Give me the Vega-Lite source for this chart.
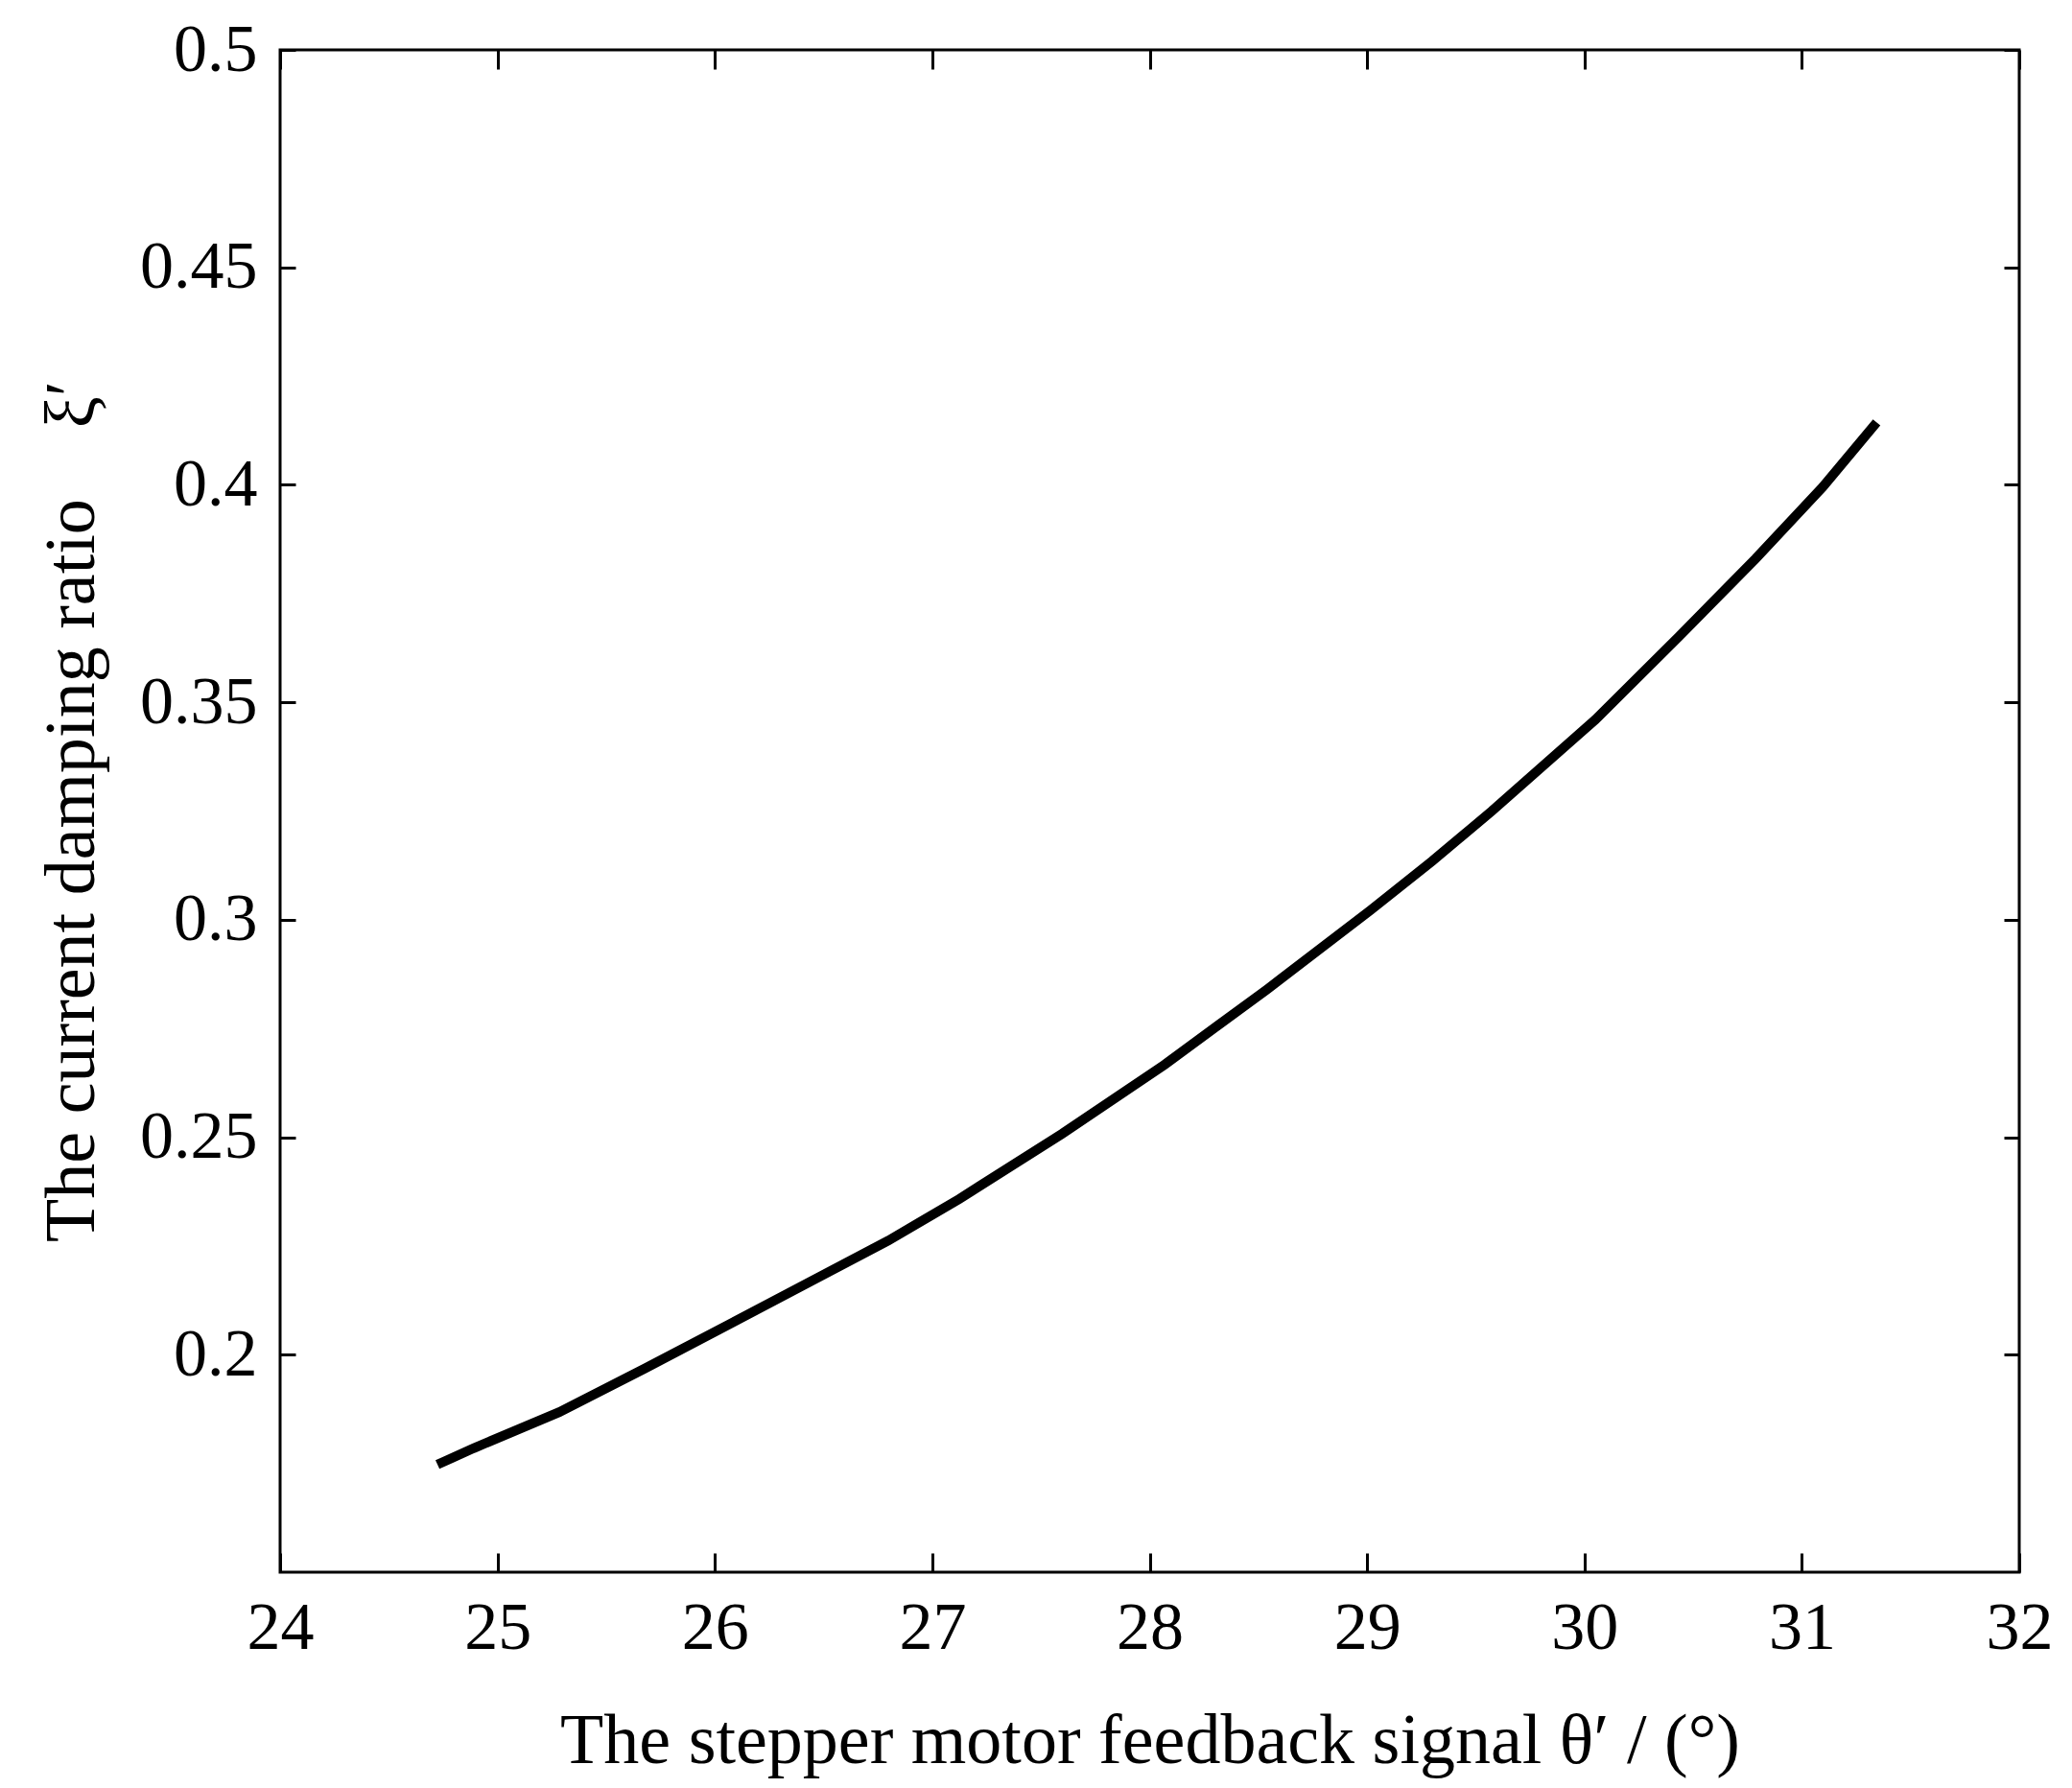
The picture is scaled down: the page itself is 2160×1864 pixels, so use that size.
{
  "$schema": "https://vega.github.io/schema/vega-lite/v6.json",
  "autosize": "none",
  "padding": {"left": 292, "top": 52, "right": 55, "bottom": 225},
  "width": 1813,
  "height": 1587,
  "background": "white",
  "config": {
    "view": {"stroke": "black", "strokeWidth": 3},
    "font": "Liberation Serif",
    "axis": {
      "grid": false,
      "domain": false,
      "labelFlush": false,
      "tickColor": "black",
      "tickWidth": 3,
      "labelColor": "black",
      "labelFont": "Liberation Serif",
      "labelFontSize": 70,
      "titleColor": "black",
      "titleFont": "Liberation Serif",
      "titleFontSize": 74,
      "titleFontWeight": "normal"
    }
  },
  "data": {
    "values": [
      {"theta": 24.744, "xi": 0.1752},
      {"theta": 24.89, "xi": 0.1785},
      {"theta": 25.284, "xi": 0.1868},
      {"theta": 25.677, "xi": 0.1968},
      {"theta": 26.07, "xi": 0.2071},
      {"theta": 26.466, "xi": 0.2175},
      {"theta": 26.797, "xi": 0.2262},
      {"theta": 27.124, "xi": 0.2358},
      {"theta": 27.597, "xi": 0.2508},
      {"theta": 28.069, "xi": 0.2667},
      {"theta": 28.54, "xi": 0.2840},
      {"theta": 29.016, "xi": 0.3022},
      {"theta": 29.3, "xi": 0.3135},
      {"theta": 29.574, "xi": 0.3250},
      {"theta": 30.05, "xi": 0.3460},
      {"theta": 30.434, "xi": 0.3651},
      {"theta": 30.787, "xi": 0.3830},
      {"theta": 31.096, "xi": 0.3995},
      {"theta": 31.33, "xi": 0.4135}
    ]
  },
  "layer": [
    {
      "mark": {"type": "line", "color": "black", "strokeWidth": 10, "strokeCap": "square"},
      "encoding": {
        "x": {
          "field": "theta",
          "type": "quantitative",
          "scale": {"domain": [24, 32], "nice": false, "zero": false},
          "axis": {
            "orient": "bottom",
            "values": [24, 25, 26, 27, 28, 29, 30, 31, 32],
            "format": "d",
            "tickSize": -20,
            "labelPadding": 99,
            "labelBaseline": "alphabetic",
            "title": "The stepper motor feedback signal θ′ / (°)",
            "titleBaseline": "alphabetic",
            "titleY": 198
          }
        },
        "y": {
          "field": "xi",
          "type": "quantitative",
          "scale": {"domain": [0.15, 0.5], "nice": false, "zero": false},
          "axis": {
            "orient": "left",
            "values": [0.2, 0.25, 0.3, 0.35, 0.4, 0.45, 0.5],
            "format": "~g",
            "tickSize": -16,
            "labelPadding": 40,
            "title": "The current damping ratio\u00a0\u00a0\u00a0\u00a0ξ′",
            "titleBaseline": "alphabetic",
            "titleX": -195
          }
        }
      }
    },
    {
      "mark": {"type": "line", "opacity": 0},
      "encoding": {
        "x": {
          "field": "theta",
          "type": "quantitative",
          "axis": {
            "orient": "top",
            "values": [24, 25, 26, 27, 28, 29, 30, 31, 32],
            "tickSize": -20,
            "labels": false,
            "title": null
          }
        },
        "y": {
          "field": "xi",
          "type": "quantitative",
          "axis": {
            "orient": "right",
            "values": [0.2, 0.25, 0.3, 0.35, 0.4, 0.45, 0.5],
            "tickSize": -16,
            "labels": false,
            "title": null
          }
        }
      }
    }
  ],
  "resolve": {"axis": {"x": "independent", "y": "independent"}}
}
